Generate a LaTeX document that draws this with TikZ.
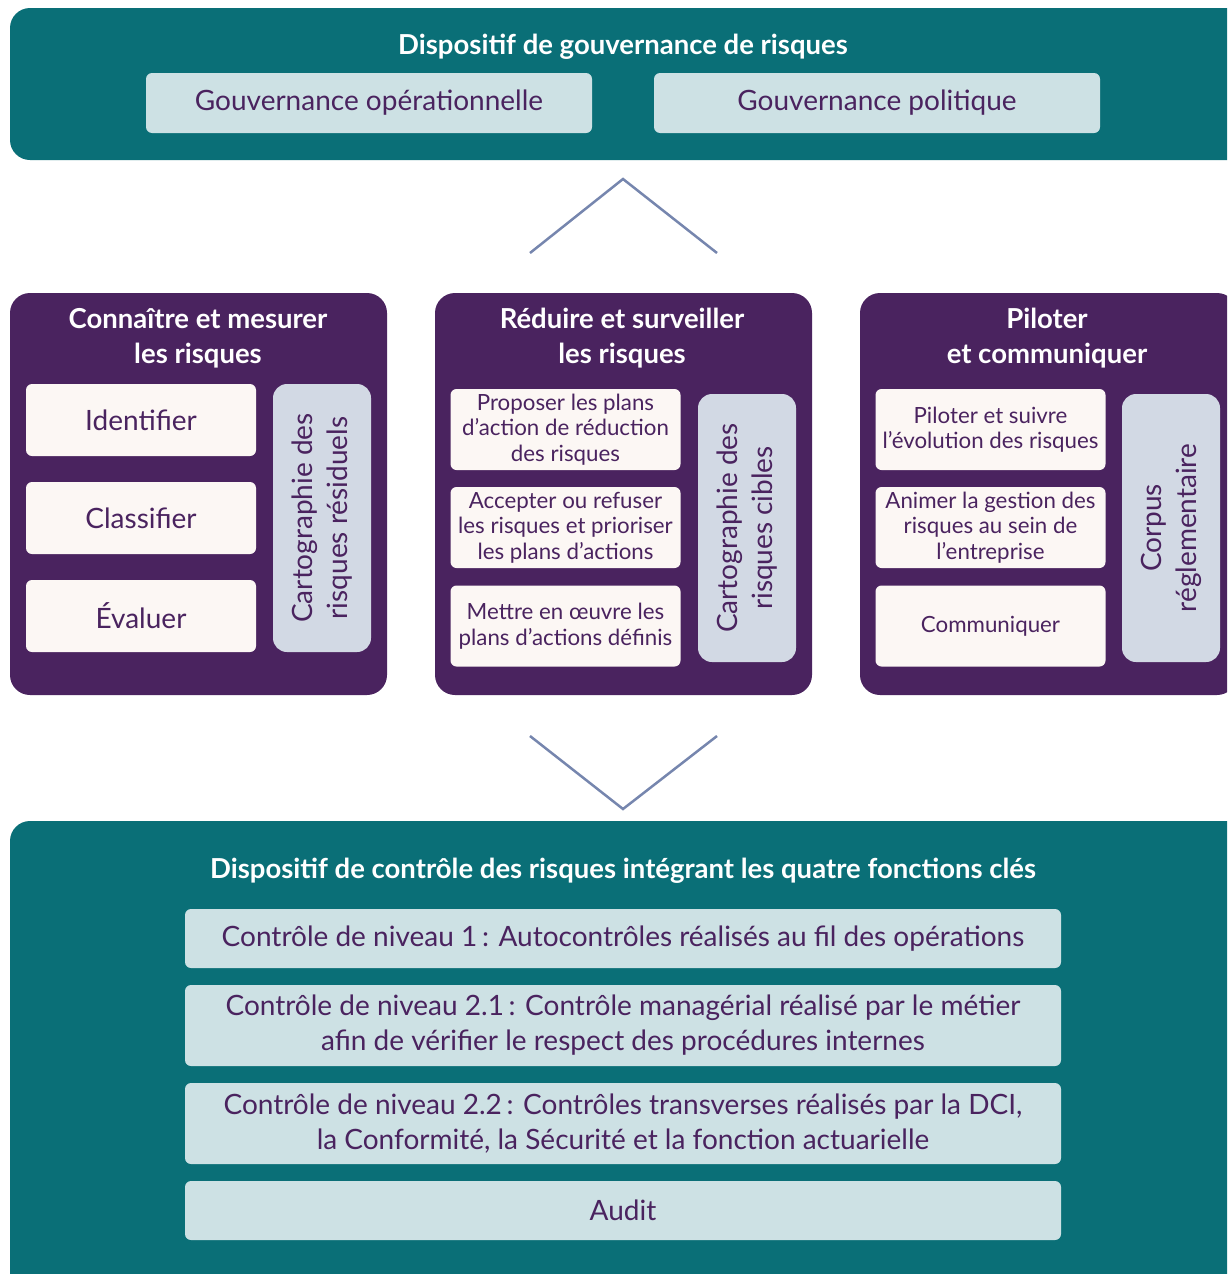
\documentclass[tikz,border=0pt]{standalone}
\usepackage{fontspec}
\setmainfont{Lato}
\usetikzlibrary{positioning}

\definecolor{govteal}{HTML}{0A6F77}
\definecolor{riskpurple}{HTML}{4A235F}
\definecolor{pale}{HTML}{CDE1E4}
\definecolor{cream}{HTML}{FCF7F4}
\definecolor{mist}{HTML}{D2D9E4}
\definecolor{chev}{HTML}{7686AE}
\definecolor{ink}{HTML}{4A235F}

\tikzset{
  big/.style={font=\fontsize{28}{35}\selectfont},
  small/.style={font=\fontsize{22.3}{25.5}\selectfont},
  head/.style={font=\bfseries\fontsize{27.5}{35}\selectfont, text=white},
  govbox/.style={fill=pale, rounded corners=6, minimum width=446, minimum height=60, big},
  stepcell/.style={fill=cream, rounded corners=6, minimum width=230},
  mapbox/.style={fill=mist, rounded corners=14, rotate=90, big, minimum width=268, minimum height=98},
  ctrlbox/.style={fill=pale, rounded corners=6, minimum width=876, big},
  chevron/.style={draw=chev, line width=2.5}
}

\begin{document}
\begin{tikzpicture}[x=1pt,y=-1pt,every node/.style={inner sep=0, align=center, text=ink}]
  \useasboundingbox (0,0) rectangle (1227,1274);
  \clip (0,0) rectangle (1227,1274);

  % gouvernance
  \fill[govteal, rounded corners=20] (10,8) rectangle (1260,160);
  \node[head] (govtitle) at (623,47) {Dispositif de gouvernance de risques};
  \node[govbox] (govop) at (369,103) {Gouvernance opérationnelle};
  \node[govbox] (govpol) at (877,103) {Gouvernance politique};

  \coordinate (upL) at (530,253);
  \coordinate (upT) at (623,179);
  \coordinate (upR) at (717,253);
  \draw[chevron] (upL) -- (upT) -- (upR);

  % three columns
  \foreach \x in {10,435,860}
    \fill[riskpurple, rounded corners=20] (\x,293) rectangle ++(377,402);

  \node[head] (knowtitle) at (198,338) {Connaître et mesurer\\les risques};
  \node[stepcell, big, minimum height=72] (ident) at (141,420) {Identifier};
  \node[stepcell, big, minimum height=72] (classif) at (141,518) {Classifier};
  \node[stepcell, big, minimum height=72] (evaluer) at (141,616) {Évaluer};
  \node[mapbox] (residuel) at (322,518) {Cartographie des\\risques résiduels};

  \node[head] (reducetitle) at (622,338) {Réduire et surveiller\\les risques};
  \node[stepcell, small, minimum height=81] (proposer) at (565.5,429.5) {Proposer les plans\\d’action de réduction\\des risques};
  \node[stepcell, small, minimum height=81] (accepter) at (565.5,527.5) {Accepter ou refuser\\les risques et prioriser\\les plans d’actions};
  \node[stepcell, small, minimum height=81] (mettre) at (565.5,626) {Mettre en œuvre les\\plans d’actions définis};
  \node[mapbox] (cibles) at (747,528) {Cartographie des\\risques cibles};

  \node[head] (pilottitle) at (1047,338) {Piloter\\et communiquer};
  \node[stepcell, small, minimum height=81] (suivre) at (990.5,429.5) {Piloter et suivre\\l’évolution des risques};
  \node[stepcell, small, minimum height=81] (animer) at (990.5,527.5) {Animer la gestion des\\risques au sein de\\l’entreprise};
  \node[stepcell, small, minimum height=81] (communiquer) at (990.5,626) {Communiquer};
  \node[mapbox] (corpus) at (1171,528) {Corpus\\réglementaire};

  \coordinate (dnL) at (530,736);
  \coordinate (dnB) at (623,809);
  \coordinate (dnR) at (717,736);
  \draw[chevron] (dnL) -- (dnB) -- (dnR);

  % controle
  \fill[govteal, rounded corners=20] (10,821) rectangle (1260,1300);
  \node[head] (ctrltitle) at (623,871) {Dispositif de contrôle des risques intégrant les quatre fonctions clés};
  \node[ctrlbox, minimum height=59] (niv1) at (623,938.5) {Contrôle de niveau 1\,: Autocontrôles réalisés au fil des opérations};
  \node[ctrlbox, minimum height=81] (niv21) at (623,1025.5) {Contrôle de niveau 2.1\,: Contrôle managérial réalisé par le métier\\afin de vérifier le respect des procédures internes};
  \node[ctrlbox, minimum height=81] (niv22) at (623,1123.5) {Contrôle de niveau 2.2\,: Contrôles transverses réalisés par la DCI,\\la Conformité, la Sécurité et la fonction actuarielle};
  \node[ctrlbox, minimum height=59] (audit) at (623,1210.5) {Audit};
\end{tikzpicture}
\end{document}
